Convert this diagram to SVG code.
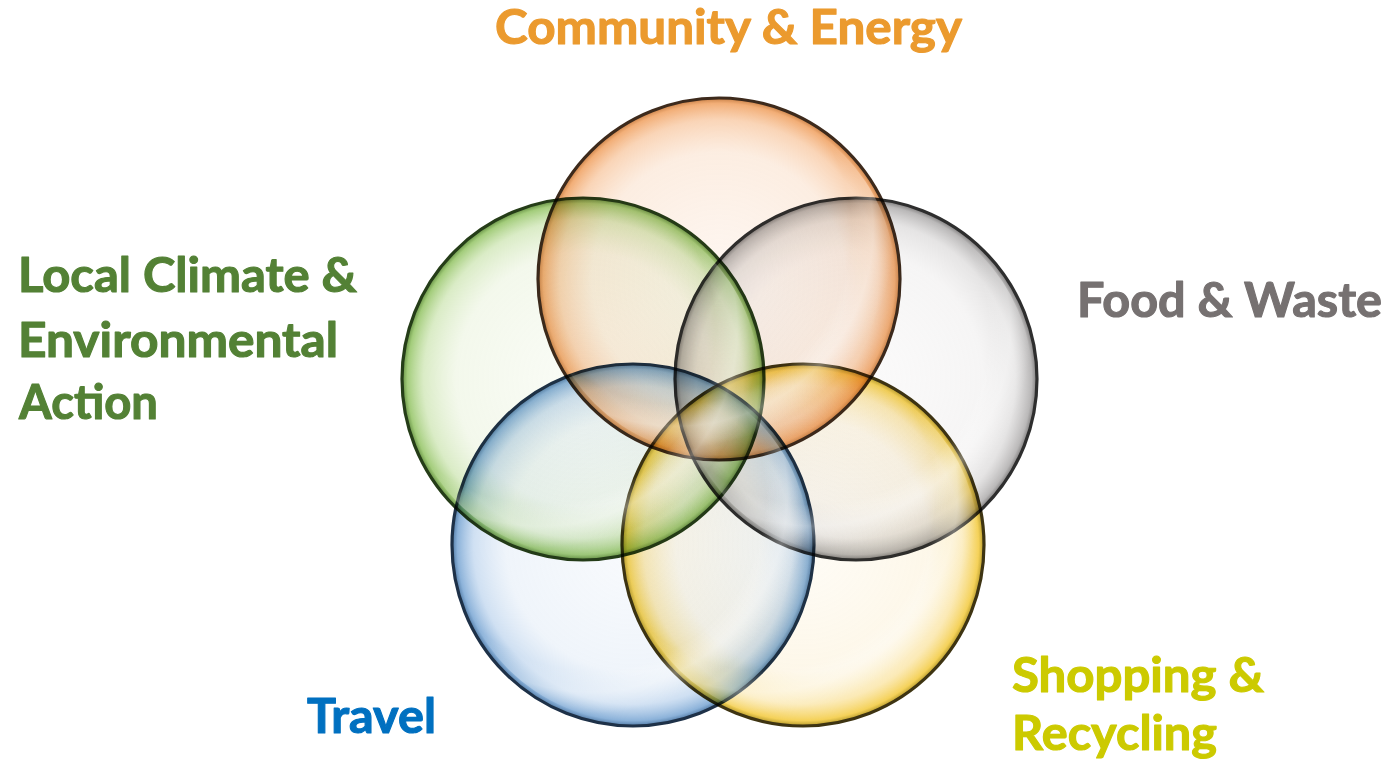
<svg xmlns="http://www.w3.org/2000/svg" width="1391" height="765" viewBox="0 0 1391 765">
  <defs>
    <radialGradient id="gOrange" cx="0.5" cy="0.5" r="0.5">
      <stop offset="0" stop-color="#fbe3d2" stop-opacity="0.3"/>
      <stop offset="0.7" stop-color="#f8d3b5" stop-opacity="0.4"/>
      <stop offset="0.88" stop-color="#f5b27c" stop-opacity="0.55"/>
      <stop offset="0.97" stop-color="#ef9a55" stop-opacity="0.8"/>
      <stop offset="1" stop-color="#c07030" stop-opacity="0.9"/>
    </radialGradient>
    <radialGradient id="gGreen" cx="0.5" cy="0.5" r="0.5">
      <stop offset="0" stop-color="#eef4e2" stop-opacity="0.3"/>
      <stop offset="0.7" stop-color="#e2eecf" stop-opacity="0.4"/>
      <stop offset="0.88" stop-color="#bcdc98" stop-opacity="0.55"/>
      <stop offset="0.97" stop-color="#8cc05a" stop-opacity="0.8"/>
      <stop offset="1" stop-color="#4f7f2a" stop-opacity="0.9"/>
    </radialGradient>
    <radialGradient id="gGray" cx="0.5" cy="0.5" r="0.5">
      <stop offset="0" stop-color="#f2f0f0" stop-opacity="0.3"/>
      <stop offset="0.7" stop-color="#e8e6e6" stop-opacity="0.4"/>
      <stop offset="0.88" stop-color="#d0cece" stop-opacity="0.55"/>
      <stop offset="0.97" stop-color="#a8a6a6" stop-opacity="0.8"/>
      <stop offset="1" stop-color="#6a6868" stop-opacity="0.9"/>
    </radialGradient>
    <radialGradient id="gBlue" cx="0.5" cy="0.5" r="0.5">
      <stop offset="0" stop-color="#e8eff8" stop-opacity="0.3"/>
      <stop offset="0.7" stop-color="#d8e5f4" stop-opacity="0.4"/>
      <stop offset="0.88" stop-color="#a9c7e8" stop-opacity="0.55"/>
      <stop offset="0.97" stop-color="#6f9fd0" stop-opacity="0.8"/>
      <stop offset="1" stop-color="#3a6898" stop-opacity="0.9"/>
    </radialGradient>
    <radialGradient id="gYellow" cx="0.5" cy="0.5" r="0.5">
      <stop offset="0" stop-color="#fdf5e2" stop-opacity="0.3"/>
      <stop offset="0.7" stop-color="#fbecc8" stop-opacity="0.4"/>
      <stop offset="0.88" stop-color="#f8d97c" stop-opacity="0.55"/>
      <stop offset="0.97" stop-color="#f2c630" stop-opacity="0.8"/>
      <stop offset="1" stop-color="#a88a10" stop-opacity="0.9"/>
    </radialGradient>
    <radialGradient id="gShine" cx="0.38" cy="0.36" r="0.62">
      <stop offset="0.8" stop-color="#ffffff" stop-opacity="0"/>
      <stop offset="0.9" stop-color="#ffffff" stop-opacity="0.35"/>
      <stop offset="1" stop-color="#ffffff" stop-opacity="0"/>
    </radialGradient>
  </defs>
  <style>
    .bubble { mix-blend-mode: multiply; stroke-width: 3.2; }
    .shine { fill: url(#gShine); }
    .lbl { font-family: Lato, "Open Sans", "Liberation Sans", sans-serif; font-weight: 700; font-size: 47px; stroke-width: 1.1; stroke-linejoin: round; }
  </style>
  <rect width="1391" height="765" fill="#ffffff"/>
  <g id="connectors"/>
  <g id="node-community-energy">
    <circle class="bubble" cx="719" cy="279" r="181" fill="url(#gOrange)" stroke="#3d2a1c"/>
    <text class="lbl" x="495" y="44" fill="#EB9A2E" stroke="#EB9A2E" textLength="467" lengthAdjust="spacingAndGlyphs">Community &amp; Energy</text>
  </g>
  <g id="node-food-waste">
    <circle class="bubble" cx="856" cy="379" r="181" fill="url(#gGray)" stroke="#2e2e2e"/>
    <text class="lbl" x="1077" y="317" fill="#767171" stroke="#767171" textLength="305" lengthAdjust="spacingAndGlyphs">Food &amp; Waste</text>
  </g>
  <g id="node-local-climate">
    <circle class="bubble" cx="583" cy="379" r="181" fill="url(#gGreen)" stroke="#253d18"/>
    <text class="lbl" fill="#538135" stroke="#538135">
      <tspan x="18" y="292" textLength="339" lengthAdjust="spacingAndGlyphs">Local Climate &amp;</tspan>
      <tspan x="18" y="357" textLength="320" lengthAdjust="spacingAndGlyphs">Environmental</tspan>
      <tspan x="19" y="419" textLength="139" lengthAdjust="spacingAndGlyphs">Action</tspan>
    </text>
  </g>
  <g id="node-travel">
    <circle class="bubble" cx="633" cy="545" r="181" fill="url(#gBlue)" stroke="#1e3148"/>
    <text class="lbl" x="307" y="733" fill="#0070C0" stroke="#0070C0" textLength="129" lengthAdjust="spacingAndGlyphs">Travel</text>
  </g>
  <g id="node-shopping-recycling">
    <circle class="bubble" cx="803" cy="545" r="181" fill="url(#gYellow)" stroke="#3e3412"/>
    <text class="lbl" fill="#CCCA00" stroke="#CCCA00">
      <tspan x="1012" y="692" textLength="252" lengthAdjust="spacingAndGlyphs">Shopping &amp;</tspan>
      <tspan x="1012" y="750" textLength="205" lengthAdjust="spacingAndGlyphs">Recycling</tspan>
    </text>
  </g>
  <g id="highlights">
    <circle class="shine" cx="719" cy="279" r="176"/>
    <circle class="shine" cx="856" cy="379" r="176"/>
    <circle class="shine" cx="583" cy="379" r="176"/>
    <circle class="shine" cx="633" cy="545" r="176"/>
    <circle class="shine" cx="803" cy="545" r="176"/>
  </g>
</svg>
